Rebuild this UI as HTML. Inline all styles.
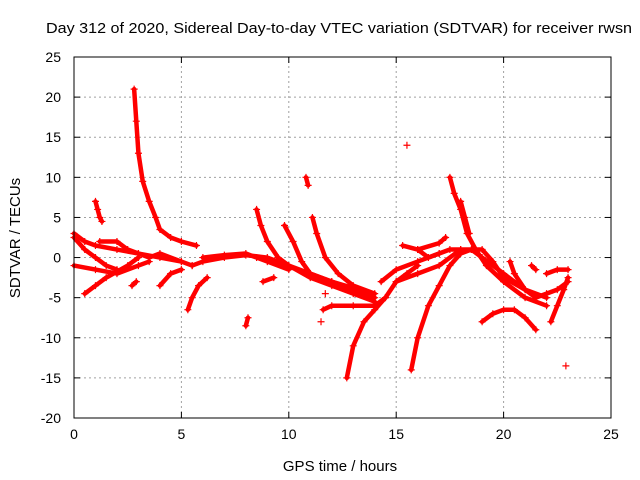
<!DOCTYPE html>
<html><head><meta charset="utf-8"><style>
body{margin:0;background:#fff;}
svg{display:block;font-family:"Liberation Sans",sans-serif;}
</style></head><body>
<svg id="chart" width="640" height="480" viewBox="0 0 640 480" xmlns="http://www.w3.org/2000/svg">
<rect width="640" height="480" fill="#fff"/>
<text x="46" y="33" font-size="15" textLength="586" lengthAdjust="spacingAndGlyphs">Day 312 of 2020, Sidereal Day-to-day VTEC variation (SDTVAR) for receiver rwsn</text>
<text x="340" y="471" font-size="15" text-anchor="middle">GPS time / hours</text>
<text x="0" y="0" font-size="15" text-anchor="middle" transform="translate(20,238) rotate(-90)">SDTVAR / TECUs</text>
<g id="grid"></g>
<g id="ticks"></g>
<g id="series"></g>
<rect x="74" y="57" width="537" height="361" fill="none" stroke="#000" stroke-width="1"/>
</svg>
<script>
const xTicks=[0,5,10,15,20,25];
const yTicks=[25,20,15,10,5,0,-5,-10,-15,-20];
const tracks=[
[[0,3],[0.5,2],[1,1.5],[2,1],[3,0.5],[4,0],[5,-0.5]],
[[0,2.5],[0.5,1],[1,0],[1.5,-1],[2,-1.5]],
[[0,-1],[1,-1.5],[2,-2],[3,-1],[3.5,-0.5]],
[[0.5,-4.5],[1,-3.5],[1.5,-2.5],[2.5,-1],[3,0]],
[[1,7],[1.1,6],[1.2,5],[1.3,4.5]],
[[2.8,21],[2.9,17],[3,13],[3.2,9.5],[3.5,7],[3.8,5],[4,3.5],[4.5,2.5],[5,2],[5.7,1.5]],
[[1.2,2],[2,2],[2.5,1],[3,0.5],[3.5,0],[4,0.5],[5,-0.5],[5.5,-1]],
[[2.7,-3.5],[2.9,-3]],
[[4,-3.5],[4.5,-2],[5,-1.5]],
[[5.3,-6.5],[5.5,-5],[5.8,-3.5],[6.2,-2.5]],
[[5.5,-1],[6,-0.5],[7,0],[8,0.3],[9,0],[10,-1],[11,-2],[12,-3],[13,-4],[14,-5]],
[[6,0],[7,0.3],[8,0.5],[8.5,0],[9,-0.5],[10,-1.5]],
[[8,-8.5],[8.1,-7.5]],
[[8.5,6],[8.7,4],[9,2],[9.5,0],[10,-1],[11,-2.5],[12,-3.5],[13,-4.5],[14,-5.5]],
[[8.8,-3],[9.3,-2.5]],
[[9.8,4],[10.2,2],[10.6,-0.5],[11,-2],[12,-3],[13,-3.8]],
[[10.8,10],[10.9,9]],
[[11.1,5],[11.3,3],[11.7,0],[12.3,-2],[13,-3.5],[14,-4.5]],
[[11.5,-8]],
[[11.6,-6.5],[12,-6],[13,-6],[14,-6],[14.5,-5]],
[[11.7,-4.5]],
[[12.7,-15],[13,-11],[13.5,-8],[14,-6.5],[14.5,-5],[15,-3],[15.5,-2],[16,-1]],
[[15.5,14]],
[[15.3,1.5],[16,1],[16.5,0],[17,0.5]],
[[15.7,-14],[16,-10],[16.5,-6],[17,-3.5],[17.5,-1],[18,0.5],[18.5,1],[19,0],[20,-2],[21,-4],[22,-5]],
[[14.3,-3],[15,-1.5],[16,-0.5],[17,0.5],[17.5,1],[18,1],[19,1],[19.5,-0.5],[20,-2.5],[21,-4]],
[[15,-3],[16,-2],[17,-1],[18,1]],
[[16,1],[17,1.8],[17.3,2.5]],
[[17.5,10],[17.7,8],[18,6],[18.3,3],[18.7,1],[19.2,-1],[20,-3],[21,-5],[22,-6]],
[[18,7],[18.2,5],[18.4,3]],
[[19,-8],[19.5,-7],[20,-6.5],[20.5,-6.5],[21,-7.5],[21.5,-9]],
[[20.3,-0.5],[20.5,-2],[21,-4],[21.5,-5],[22,-4.5],[22.5,-4],[23,-3]],
[[21.3,-1],[21.5,-1.5]],
[[22,-2],[22.5,-1.5],[23,-1.5]],
[[22.2,-8],[22.5,-6],[22.8,-4],[23,-2.5]],
[[22.9,-13.5]]
];
const X0=74,X1=611,Y0=418,Y1=57;
const xs=v=>X0+(v-0)/(25-0)*(X1-X0);
const ys=v=>Y0-(v+20)/(45)*(Y0-Y1);
const NS="http://www.w3.org/2000/svg";
const grid=document.getElementById('grid'),ticks=document.getElementById('ticks'),ser=document.getElementById('series');
function mk(t,a,p){const e=document.createElementNS(NS,t);for(const k in a)e.setAttribute(k,a[k]);p.appendChild(e);return e;}
xTicks.forEach(v=>{const x=xs(v);
 if(v>0&&v<25){const g=mk('line',{x1:x,x2:x,y1:Y0,y2:Y1,stroke:'#a0a0a0','stroke-dasharray':'2,3'},grid);
 
 }
 mk('line',{x1:x,x2:x,y1:Y0,y2:Y0-6,stroke:'#000'},ticks);
 mk('line',{x1:x,x2:x,y1:Y1,y2:Y1+6,stroke:'#000'},ticks);
 const t=mk('text',{x:x,y:Y0+21,'font-size':14,'text-anchor':'middle'},ticks);t.textContent=v;
 
 
});
yTicks.forEach(v=>{const y=ys(v);
 if(v>-20&&v<25){const g=mk('line',{x1:X0,x2:X1,y1:y,y2:y,stroke:'#a0a0a0','stroke-dasharray':'2,3'},grid);
 
 }
 mk('line',{x1:X0,x2:X0+6,y1:y,y2:y,stroke:'#000'},ticks);
 mk('line',{x1:X1,x2:X1-6,y1:y,y2:y,stroke:'#000'},ticks);
 const t=mk('text',{x:X0-13,y:y+5,'font-size':14,'text-anchor':'end'},ticks);t.textContent=v;
 
 
});
tracks.forEach(tr=>{
 const g=mk('g',{},ser);
 
 
 if(tr.length>1){mk('polyline',{points:tr.map(p=>xs(p[0])+','+ys(p[1])).join(' '),fill:'none',stroke:'#f00','stroke-width':4.5,'stroke-linejoin':'round','stroke-linecap':'round'},g);}
 tr.forEach(p=>{const x=xs(p[0]),y=ys(p[1]);
  const m=mk('path',{d:`M${x-3.5},${y}H${x+3.5}M${x},${y-3.5}V${y+3.5}`,stroke:'#f00','stroke-width':1.2},g);
  
  
 });
});
</script>
</body></html>
